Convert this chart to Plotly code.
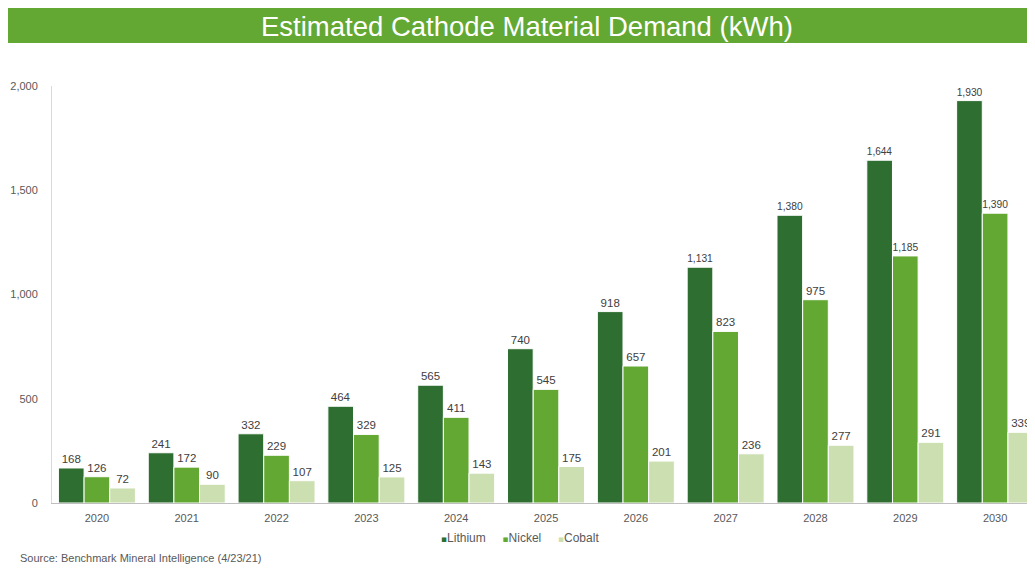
import plotly.graph_objects as go

years = ["2020", "2021", "2022", "2023", "2024", "2025", "2026", "2027", "2028", "2029", "2030"]
lithium = [168, 241, 332, 464, 565, 740, 918, 1131, 1380, 1644, 1930]
nickel = [126, 172, 229, 329, 411, 545, 657, 823, 975, 1185, 1390]
cobalt = [72, 90, 107, 125, 143, 175, 201, 236, 277, 291, 339]

series = [("Lithium", lithium, "#2e6e30"), ("Nickel", nickel, "#63a832"), ("Cobalt", cobalt, "#cbdfb0")]

FONT = "Liberation Sans, Arial, sans-serif"
fig = go.Figure()
for name, vals, col in series:
    fig.add_trace(go.Bar(
        x=years, y=vals, name=name, showlegend=False,
        marker=dict(color=col, line=dict(color="white", width=1)),
        text=[f"{v:,}" for v in vals], textposition="outside",
        textfont=dict(family=FONT, size=11.5, color="#404040"),
        cliponaxis=False,
    ))

legend_text = "&nbsp;&nbsp;&nbsp;&nbsp;&nbsp;".join(
    f'<span style="color:{col};font-family:DejaVu Sans;font-size:9px">▪</span>{name}'
    for name, _, col in series
)

fig.update_layout(
    width=1027, height=560,
    margin=dict(l=44, r=0, t=78, b=65),
    paper_bgcolor="white", plot_bgcolor="white",
    barmode="group", bargap=0.143, bargroupgap=0,
    font=dict(family=FONT, size=11, color="#595959"),
    showlegend=False,
    xaxis=dict(type="category", range=[-0.5, 10.444], showline=True, linecolor="#bfbfbf",
               linewidth=1, ticks="", showgrid=False, ticklabelstandoff=5,
               tickfont=dict(family=FONT, size=11, color="#595959")),
    yaxis=dict(range=[0, 2000], tickvals=[0, 500, 1000, 1500, 2000], tickformat=",",
               showline=True, linecolor="#d9d9d9", linewidth=1, showgrid=False, zeroline=False,
               ticks="", ticklabelstandoff=11,
               tickfont=dict(family=FONT, size=11, color="#595959")),
    shapes=[dict(type="rect", xref="paper", yref="paper", x0=-0.0448, x1=1.0, y0=1.103, y1=1.187,
                 fillcolor="#63a832", line=dict(width=0), layer="below")],
    annotations=[
        dict(text="Estimated Cathode Material Demand (kWh)", xref="paper", yref="paper",
             x=0.483, y=1.143, xanchor="center", yanchor="middle", showarrow=False,
             font=dict(family=FONT, size=27.5, color="white")),
        dict(text=legend_text, xref="paper", yref="paper",
             x=0.476, y=-0.084, xanchor="center", yanchor="middle", showarrow=False,
             font=dict(family=FONT, size=12, color="#595959")),
        dict(text="Source: Benchmark Mineral Intelligence (4/23/21)", xref="paper", yref="paper",
             x=-0.0346, y=-0.132, xanchor="left", yanchor="middle", showarrow=False,
             font=dict(family=FONT, size=11, color="#595959")),
    ],
)

fig.write_html("out.html")
